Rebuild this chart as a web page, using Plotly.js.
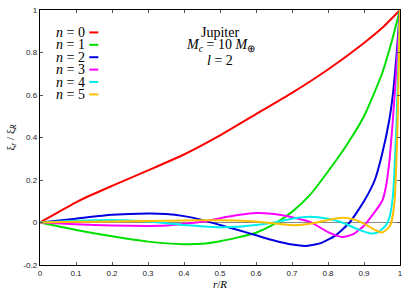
<!DOCTYPE html>
<html>
<head>
<meta charset="utf-8">
<script src="https://cdn.plot.ly/plotly-3.0.1.min.js"></script>
<style>html,body{margin:0;padding:0;background:#fff;} #chart{width:415px;height:291px;}</style>
</head>
<body>
<div id="chart"></div>
<script>
// Data (r/R vs normalised xi_r)
const x0 = [0, 0.05, 0.1, 0.13, 0.2, 0.3, 0.4, 0.5, 0.6, 0.7, 0.8, 0.9, 0.95, 1.0];
const y0 = [0, 0.048, 0.095, 0.12, 0.172, 0.245, 0.32, 0.41, 0.51, 0.61, 0.72, 0.845, 0.915, 1.0];

const x1 = [0, 0.1, 0.2, 0.3, 0.4, 0.45, 0.5, 0.55, 0.6, 0.65, 0.7, 0.75, 0.8, 0.85, 0.9, 0.95, 0.975, 1.0];
const y1 = [0, -0.035, -0.065, -0.09, -0.102, -0.1, -0.088, -0.07, -0.048, -0.008, 0.05, 0.13, 0.24, 0.36, 0.5, 0.7, 0.84, 1.0];

const x2 = [0, 0.1, 0.2, 0.3, 0.35, 0.4, 0.45, 0.5, 0.55, 0.6, 0.65, 0.7, 0.74, 0.78, 0.82, 0.86, 0.9, 0.93, 0.95, 0.97, 0.98, 0.99, 1.0];
const y2 = [0, 0.018, 0.036, 0.042, 0.04, 0.03, 0.012, -0.012, -0.035, -0.06, -0.085, -0.104, -0.11, -0.097, -0.062, 0.0, 0.1, 0.2, 0.32, 0.48, 0.6, 0.78, 1.0];

const x3 = [0, 0.1, 0.2, 0.3, 0.35, 0.4, 0.45, 0.5, 0.55, 0.6, 0.65, 0.7, 0.75, 0.8, 0.84, 0.87, 0.9, 0.93, 0.95, 0.96, 0.97, 0.98, 0.99, 1.0];
const y3 = [0, -0.008, -0.014, -0.016, -0.014, -0.006, 0.003, 0.02, 0.035, 0.045, 0.04, 0.025, 0.003, -0.045, -0.068, -0.055, -0.015, 0.05, 0.1, 0.16, 0.28, 0.48, 0.72, 1.0];

const x4 = [0, 0.1, 0.2, 0.3, 0.35, 0.4, 0.5, 0.55, 0.6, 0.65, 0.7, 0.75, 0.8, 0.84, 0.88, 0.92, 0.94, 0.96, 0.97, 0.98, 0.99, 1.0];
const y4 = [0, 0.008, 0.012, 0.005, -0.003, -0.012, -0.022, -0.02, -0.012, 0.0, 0.018, 0.027, 0.018, 0.0, -0.03, -0.052, -0.045, -0.015, 0.02, 0.12, 0.45, 1.0];

const x5 = [0, 0.1, 0.2, 0.3, 0.4, 0.5, 0.55, 0.6, 0.65, 0.7, 0.74, 0.77, 0.8, 0.84, 0.87, 0.9, 0.93, 0.95, 0.965, 0.975, 0.985, 0.993, 1.0];
const y5 = [0, 0.003, 0.005, 0.007, 0.009, 0.011, 0.01, 0.005, -0.004, -0.013, -0.008, 0.0, 0.012, 0.022, 0.015, -0.005, -0.035, -0.047, -0.03, -0.005, 0.1, 0.45, 1.0];

const seriesX = [x0, x1, x2, x3, x4, x5];
const seriesY = [y0, y1, y2, y3, y4, y5];
const seriesNames = ["n = 0", "n = 1", "n = 2", "n = 3", "n = 4", "n = 5"];
const seriesLabels = ["<i>n</i> = 0", "<i>n</i> = 1", "<i>n</i> = 2", "<i>n</i> = 3", "<i>n</i> = 4", "<i>n</i> = 5"];
const colors = ["#ff0000", "#00e000", "#0000e0", "#ff00ff", "#00eeee", "#ffc000"];

const xTicks = [0, 0.1, 0.2, 0.3, 0.4, 0.5, 0.6, 0.7, 0.8, 0.9, 1];
const xTickText = ["0", "0.1", "0.2", "0.3", "0.4", "0.5", "0.6", "0.7", "0.8", "0.9", "1"];
const yTicks = [-0.2, 0, 0.2, 0.4, 0.6, 0.8, 1];
const yTickText = ["-0.2", "0", "0.2", "0.4", "0.6", "0.8", "1"];

const traces = seriesX.map((xs, i) => ({
  x: xs, y: seriesY[i], type: "scatter", mode: "lines", name: seriesNames[i],
  line: {color: colors[i], width: 2, shape: "spline", smoothing: 0.5},
  showlegend: false, hoverinfo: "skip"
}));

const serif = "Liberation Serif, Times New Roman, serif";
const annotations = [];
const shapes = [];
const rowTop = 0.912, rowStep = 0.0486;
seriesLabels.forEach((lab, i) => {
  const yy = rowTop - i * rowStep;
  annotations.push({xref: "paper", yref: "paper", x: 0.128, y: yy, xanchor: "right", yanchor: "middle",
    text: lab, showarrow: false, borderpad: 0, font: {family: serif, size: 14, color: "#000"}});
  shapes.push({type: "line", xref: "paper", yref: "paper", x0: 0.137, x1: 0.162, y0: yy, y1: yy,
    line: {color: colors[i], width: 2}});
});
annotations.push({xref: "paper", yref: "paper", x: 0.5, y: 0.912, xanchor: "center", yanchor: "middle",
  text: "Jupiter", showarrow: false, borderpad: 0, font: {family: serif, size: 14, color: "#000"}});
annotations.push({xref: "paper", yref: "paper", x: 0.5, y: 0.860, xanchor: "center", yanchor: "middle",
  text: "<i>M</i><sub><i>c</i></sub> = 10 <i>M</i><sub>⊕</sub>", showarrow: false, borderpad: 0, font: {family: serif, size: 14, color: "#000"}});
annotations.push({xref: "paper", yref: "paper", x: 0.5, y: 0.800, xanchor: "center", yanchor: "middle",
  text: "<i>l</i> = 2", showarrow: false, borderpad: 0, font: {family: serif, size: 14, color: "#000"}});
// zero line
shapes.push({type: "line", xref: "paper", yref: "y", x0: 0, x1: 1, y0: 0, y1: 0,
  line: {color: "#888888", width: 1}, layer: "below"});

const axisCommon = {
  showgrid: false, zeroline: false, showline: true, linecolor: "#000", linewidth: 1.3,
  mirror: "ticks", ticks: "inside", ticklen: 3, tickcolor: "#555", tickwidth: 1,
  tickfont: {family: "Liberation Sans, Arial, sans-serif", size: 8, color: "#222"}
};

const layout = {
  width: 415, height: 291,
  margin: {l: 39.5, r: 15, t: 10, b: 26},
  paper_bgcolor: "#fff", plot_bgcolor: "#fff",
  xaxis: Object.assign({}, axisCommon, {
    range: [0, 1], tickvals: xTicks, ticktext: xTickText,
    title: {text: "<i>r</i>/<i>R</i>", font: {family: serif, size: 11, color: "#000"}, standoff: 2}
  }),
  yaxis: Object.assign({}, axisCommon, {
    range: [-0.2, 1], tickvals: yTicks, ticktext: yTickText,
    title: {text: "ξ<sub><i>r</i></sub> / ξ<sub><i>R</i></sub>", font: {family: serif, size: 11, color: "#000"}, standoff: 6}
  }),
  annotations: annotations,
  shapes: shapes
};

Plotly.newPlot("chart", traces, layout, {staticPlot: true, displayModeBar: false});
</script>
</body>
</html>
